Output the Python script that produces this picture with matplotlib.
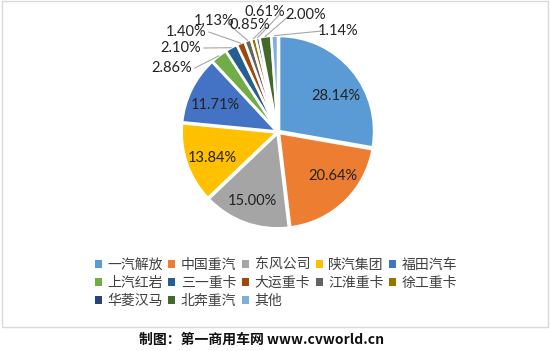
import numpy as np
import matplotlib.pyplot as plt
from matplotlib.patches import Patch, Rectangle

plt.rcParams['font.family'] = ['Noto Sans CJK SC', 'DejaVu Sans']

brands = ['一汽解放', '中国重汽', '东风公司', '陕汽集团', '福田汽车',
          '上汽红岩', '三一重卡', '大运重卡', '江淮重卡', '徐工重卡',
          '华菱汉马', '北奔重汽', '其他']
shares = [28.14, 20.64, 15.00, 13.84, 11.71, 2.86, 2.10, 1.40, 1.13, 0.85, 0.61, 2.00, 1.14]
colors = ['#5B9BD5', '#ED7D31', '#A5A5A5', '#FFC000', '#4472C4', '#70AD47',
          '#255E91', '#9E480E', '#636363', '#997300', '#264478', '#43682B', '#7CAFDD']

W, H = 550, 351
fig = plt.figure(figsize=(W / 100, H / 100), dpi=100)

# chart frame
fig.add_artist(Rectangle((2 / W, 1 - 327 / H), 546 / W, 326 / H, transform=fig.transFigure,
                         fill=False, edgecolor='#d9d9d9', linewidth=1))

cx, cy, r = 278, 132, 95
ax = fig.add_axes([(cx - r) / W, 1 - (cy + r) / H, 2 * r / W, 2 * r / H])
wedges, _ = ax.pie(shares, colors=colors, startangle=90, counterclock=False,
                   explode=[0.015] * len(shares),
                   wedgeprops=dict(edgecolor='white', linewidth=1.8))
ax.set_xlim(-1, 1)
ax.set_ylim(-1, 1)
ax.axis('off')


def px(x, y):
    return (x - cx) / r, (cy - y) / r


num_font = ['Lato', 'DejaVu Sans']

# inside labels (pixel centres)
inside = {0: (336, 96), 1: (333, 176), 2: (252, 201), 3: (212, 158), 4: (215, 105)}
for i, (x, y) in inside.items():
    ax.text(*px(x, y), f'{shares[i]:.2f}%', ha='center', va='center', fontsize=10.5,
            color='#222222', family=num_font)

# outside labels: text anchor (pixel), alignment
outside = {5: (192, 68, 'right'), 6: (201, 48, 'right'), 7: (206, 32, 'right'),
           8: (214, 21, 'center'), 9: (250, 25, 'center'), 10: (265, 12, 'center'),
           11: (306, 15, 'center'), 12: (338, 31, 'center')}
for i, (x, y, ha) in outside.items():
    w = wedges[i]
    mid = np.deg2rad((w.theta1 + w.theta2) / 2)
    ex, ey = 1.015 * np.cos(mid), 1.015 * np.sin(mid)
    tx, ty = px(x, y)
    if ha == 'right':
        lx, ly = tx + 0.03, ty
    elif x < cx:
        lx, ly = tx + 0.15, ty - 0.03
    else:
        lx, ly = tx - 0.17, ty
    ax.plot([lx, ex], [ly, ey], color='#a6a6a6', linewidth=0.8, clip_on=False)
    ax.text(tx, ty, f'{shares[i]:.2f}%', ha=ha, va='center', fontsize=10.5,
            color='#222222', family=num_font)

# legend filled row by row (matplotlib fills columns)
order = [0, 5, 10, 1, 6, 11, 2, 7, 12, 3, 8, 4, 9]
handles = [Patch(facecolor=colors[k], edgecolor='none') for k in order]
labels = [brands[k] for k in order]
fig.legend(handles, labels, ncol=5, loc='center', bbox_to_anchor=(276 / W, 1 - 283 / H),
           frameon=False, fontsize=10, handlelength=0.5, handleheight=0.5,
           handletextpad=0.4, columnspacing=0.4, labelspacing=0.28, labelcolor='#404040')

fig.text(262 / W, 1 - 340 / H, '制图：第一商用车网 www.cvworld.cn', ha='center', va='center',
         fontsize=10, fontweight='bold', color='#111111')

fig.savefig('out.png', dpi=100)
